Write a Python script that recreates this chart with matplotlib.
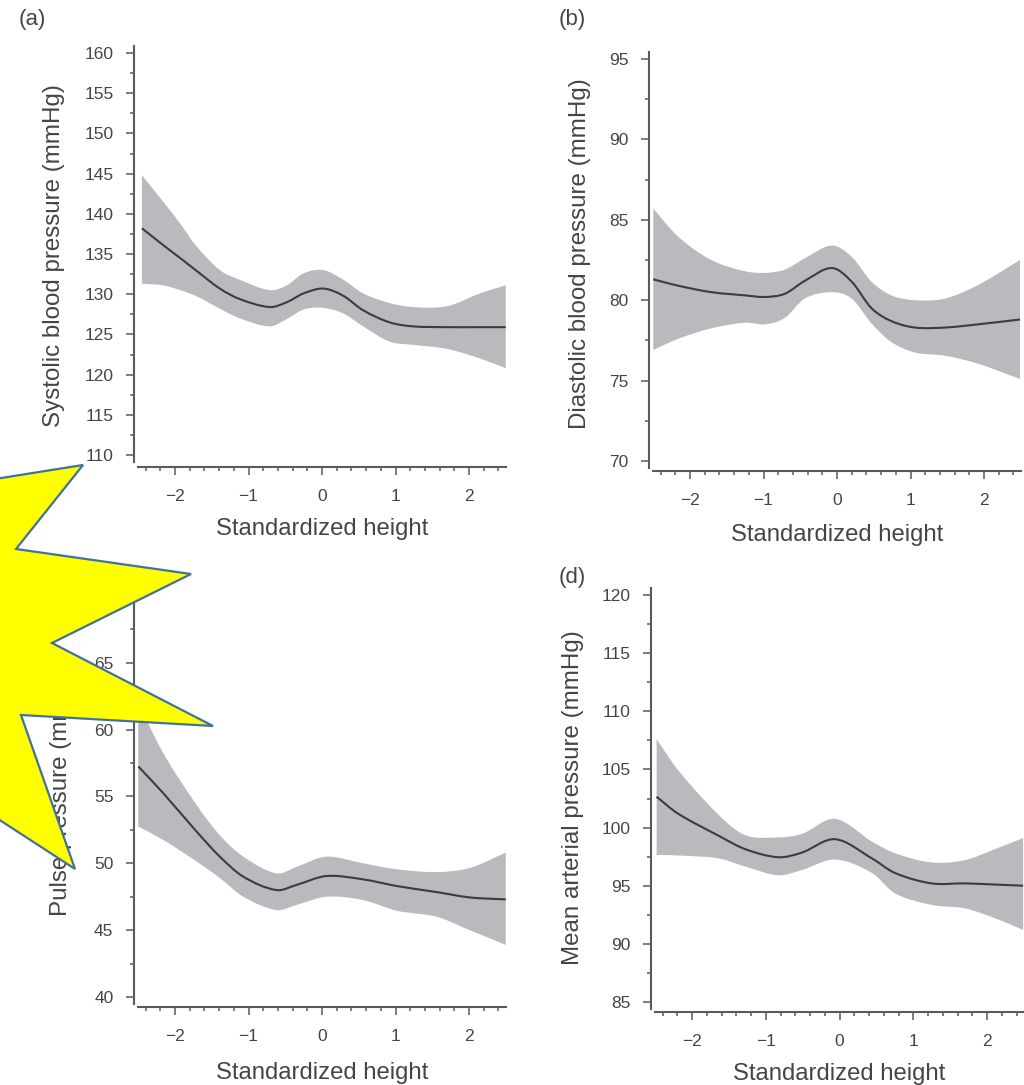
import matplotlib
matplotlib.use("Agg")
import matplotlib.pyplot as plt
from matplotlib.patches import Polygon, PathPatch
from matplotlib.path import Path
from matplotlib.ticker import MultipleLocator

W, H = 1024, 1085
plt.rcParams['font.family'] = ['Liberation Sans', 'DejaVu Sans']

# ---------- Data ----------
a_x = [-2.45, -2.16, -1.93, -1.72, -1.39, -1.12, -0.71, -0.48, -0.25, 0.02, 0.29, 0.56, 0.92, 1.24, 1.70, 2.15, 2.50]
a_mid = [138.2, 136.1, 134.5, 133.0, 130.7, 129.4, 128.4, 129.0, 130.1, 130.7, 129.8, 128.0, 126.5, 126.0, 125.9, 125.9, 125.9]
a_up = [144.8, 141.5, 138.8, 136.1, 133.0, 131.8, 130.5, 131.1, 132.6, 133.0, 131.8, 130.1, 128.9, 128.4, 128.5, 130.1, 131.1]
a_low = [131.3, 131.1, 130.5, 129.8, 128.2, 127.0, 126.0, 126.9, 128.1, 128.3, 127.6, 126.0, 124.1, 123.7, 123.2, 122.0, 120.8]

b_x = [-2.50, -2.16, -1.71, -1.25, -0.98, -0.71, -0.44, -0.07, 0.20, 0.47, 0.74, 1.06, 1.47, 1.92, 2.49]
b_mid = [81.3, 80.9, 80.5, 80.3, 80.2, 80.4, 81.2, 82.0, 81.15, 79.5, 78.7, 78.3, 78.3, 78.5, 78.8]
b_up = [85.7, 83.95, 82.5, 81.8, 81.7, 81.9, 82.6, 83.4, 82.7, 81.15, 80.3, 80.0, 80.1, 80.95, 82.5]
b_low = [76.9, 77.6, 78.25, 78.6, 78.5, 78.9, 80.1, 80.5, 80.1, 78.55, 77.4, 76.75, 76.55, 76.05, 75.1]

c_x = [-2.50, -2.16, -1.71, -1.39, -1.07, -0.62, -0.34, 0.06, 0.56, 1.02, 1.56, 2.01, 2.50]
c_mid = [57.25, 55.25, 52.4, 50.5, 49.0, 48.0, 48.4, 49.05, 48.8, 48.3, 47.85, 47.45, 47.3]
c_up = [62.0, 58.25, 54.4, 52.1, 50.5, 49.25, 49.75, 50.5, 50.0, 49.55, 49.35, 49.65, 50.8]
c_low = [52.75, 51.75, 50.15, 48.9, 47.5, 46.5, 46.9, 47.5, 47.25, 46.45, 46.0, 45.0, 43.9]

d_x = [-2.48, -2.19, -1.64, -1.28, -0.83, -0.51, -0.06, 0.44, 0.75, 1.25, 1.70, 2.11, 2.49]
d_mid = [102.65, 101.2, 99.3, 98.15, 97.45, 97.85, 99.0, 97.35, 96.1, 95.2, 95.2, 95.1, 95.0]
d_up = [107.6, 104.95, 101.1, 99.35, 99.15, 99.45, 100.75, 98.8, 97.8, 97.0, 97.2, 98.15, 99.1]
d_low = [97.65, 97.6, 97.35, 96.65, 95.9, 96.35, 97.25, 96.1, 94.35, 93.35, 93.05, 92.2, 91.2]

TEXT = '#454548'
AXIS = '#5a5a5e'
BAND = '#b9babe'
LINE = '#3c3c40'

fig = plt.figure(figsize=(W / 100, H / 100), dpi=100)


def px(x, y):
    return x / W, 1 - y / H


# bezier segments through the read points, so the curves are not angular
def curve(x, y):
    n = len(x)
    slopes = []
    for i in range(n):
        j, k = max(i - 1, 0), min(i + 1, n - 1)
        slopes.append((y[k] - y[j]) / (x[k] - x[j]))
    verts = []
    for i in range(n - 1):
        dx = (x[i + 1] - x[i]) / 3
        verts.append((x[i] + dx, y[i] + slopes[i] * dx))
        verts.append((x[i + 1] - dx, y[i + 1] - slopes[i + 1] * dx))
        verts.append((x[i + 1], y[i + 1]))
    return verts, [Path.CURVE4] * len(verts)


# ---------- Panels ----------
def panel(x, mid, up, low, x0, unit, lo, lo_px, hi, hi_px, gap, ylabel, ylab_x, ylab_y, xlab_y, tag, tag_xy):
    left = x0 - 2.5 * unit
    ax = fig.add_axes([left / W, 1 - lo_px / H, 5 * unit / W, (lo_px - hi_px) / H])

    up_v, up_c = curve(x, up)
    low_v, low_c = curve(x[::-1], low[::-1])
    verts = [(x[0], up[0])] + up_v + [(x[-1], low[-1])] + low_v + [(x[0], up[0])]
    codes = [Path.MOVETO] + up_c + [Path.LINETO] + low_c + [Path.CLOSEPOLY]
    ax.add_patch(PathPatch(Path(verts, codes), facecolor=BAND, edgecolor='none'))

    mid_v, mid_c = curve(x, mid)
    ax.add_patch(PathPatch(Path([(x[0], mid[0])] + mid_v, [Path.MOVETO] + mid_c),
                           facecolor='none', edgecolor=LINE, lw=1.5))
    ax.set_xlim(-2.5, 2.5)
    ax.set_ylim(lo, hi)

    for s in ['top', 'right']:
        ax.spines[s].set_visible(False)
    ax.spines['left'].set_position(('outward', 4 * 0.72))
    ax.spines['bottom'].set_position(('outward', gap * 0.72))
    pad = 7 * (hi - lo) / (lo_px - hi_px)
    ax.spines['left'].set_bounds(lo - pad, hi + pad)
    for s in ['left', 'bottom']:
        ax.spines[s].set_color(AXIS)
        ax.spines[s].set_linewidth(1.5)

    ax.xaxis.set_major_locator(MultipleLocator(1))
    ax.xaxis.set_minor_locator(MultipleLocator(0.2))
    ax.yaxis.set_major_locator(MultipleLocator(5))
    ax.yaxis.set_minor_locator(MultipleLocator(2.5))
    ax.tick_params(which='major', length=5.5, width=1.1, color=AXIS, labelcolor=TEXT, labelsize=12.5)
    ax.tick_params(which='minor', length=3, width=1.1, color=AXIS)
    ax.tick_params(axis='x', which='major', pad=10)
    ax.tick_params(axis='y', which='major', pad=9.5)

    fig.text(*px(x0, xlab_y), 'Standardized height', color=TEXT, fontsize=17.2, ha='center', va='center')
    fig.text(*px(ylab_x, ylab_y), ylabel, color=TEXT, fontsize=17.4, rotation=90, ha='center', va='center')
    fig.text(*px(*tag_xy), tag, color=TEXT, fontsize=16, ha='center', va='center')
    return ax


panel(a_x, a_mid, a_up, a_low, 322, 73.5, 110, 455, 160, 53, 12,
      'Systolic blood pressure (mmHg)', 54, 256, 529, '(a)', (32, 19))
panel(b_x, b_mid, b_up, b_low, 837, 73.5, 70, 461, 95, 59, 10,
      'Diastolic blood pressure (mmHg)', 580, 254, 535, '(b)', (572, 19))
panel(c_x, c_mid, c_up, c_low, 322, 73.5, 40, 997, 70, 596, 10,
      'Pulse pressure (mmHg)', 61, 789, 1073, '(c)', (32, 578))
panel(d_x, d_mid, d_up, d_low, 839.5, 73.75, 85, 1002, 120, 595, 10,
      'Mean arterial pressure (mmHg)', 573, 798, 1074, '(d)', (572, 578))

# ---------- Yellow star over the panel corner ----------
star_px = [(-5, 479), (83, 465), (16, 549), (191, 574), (52, 643), (213, 726),
           (21, 715), (75, 869), (-5, 817)]
star = Polygon([px(x, y) for x, y in star_px], closed=True, transform=fig.transFigure,
               facecolor='#ffff00', edgecolor='#41719c', linewidth=1.6, zorder=10)
fig.add_artist(star)

fig.savefig('out.png', dpi=100)
